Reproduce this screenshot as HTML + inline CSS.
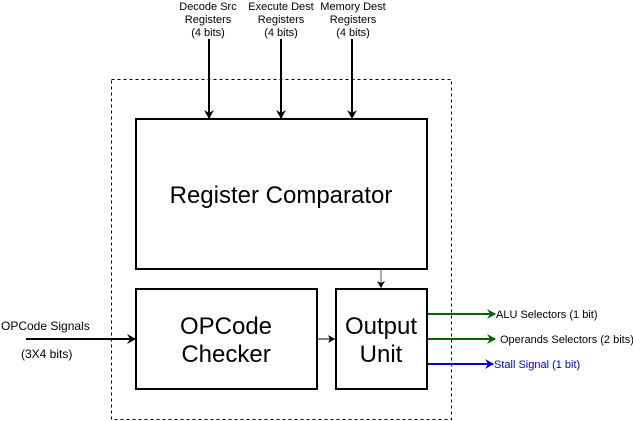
<!DOCTYPE html>
<html><head><style>
body{margin:0;background:#fff;}
svg{display:block;font-family:"Liberation Sans",sans-serif;}
</style></head><body>
<svg width="633" height="421" viewBox="0 0 633 421">
<defs>
<marker id="ab" markerWidth="10" markerHeight="10" refX="8" refY="5" orient="auto" markerUnits="userSpaceOnUse"><path d="M0,0 L9,5 L0,10 L3,5z" fill="#000"/></marker>
<marker id="as" markerWidth="8" markerHeight="8" refX="7" refY="4" orient="auto" markerUnits="userSpaceOnUse"><path d="M0,0 L7,4 L0,8 L2,4z" fill="#000"/></marker>
<marker id="ag" markerWidth="10" markerHeight="10" refX="8" refY="5" orient="auto" markerUnits="userSpaceOnUse"><path d="M0,0 L9,5 L0,10 L3,5z" fill="#006600"/></marker>
<marker id="abl" markerWidth="10" markerHeight="10" refX="8" refY="5" orient="auto" markerUnits="userSpaceOnUse"><path d="M0,0 L9,5 L0,10 L3,5z" fill="#0000cc"/></marker>
</defs>
<rect x="111.5" y="79.5" width="340" height="340" fill="none" stroke="#000" stroke-dasharray="3,3"/>
<rect x="136" y="119" width="291" height="150" fill="#fff" stroke="#000" stroke-width="2"/>
<text x="281" y="203" font-size="24" text-anchor="middle">Register Comparator</text>
<rect x="136" y="289" width="181" height="100" fill="#fff" stroke="#000" stroke-width="2"/>
<text x="226" y="334" font-size="24" text-anchor="middle">OPCode</text>
<text x="226" y="362" font-size="24" text-anchor="middle">Checker</text>
<rect x="336" y="289" width="91" height="100" fill="#fff" stroke="#000" stroke-width="2"/>
<text x="381" y="334" font-size="24" text-anchor="middle">Output</text>
<text x="381" y="362" font-size="24" text-anchor="middle">Unit</text>
<g font-size="11" text-anchor="middle">
<text x="208" y="10">Decode Src</text><text x="208" y="23">Registers</text><text x="208" y="36">(4 bits)</text>
<text x="281" y="10">Execute Dest</text><text x="281" y="23">Registers</text><text x="281" y="36">(4 bits)</text>
<text x="353" y="10">Memory Dest</text><text x="353" y="23">Registers</text><text x="353" y="36">(4 bits)</text>
</g>
<g stroke="#000" stroke-width="2">
<line x1="209" y1="39" x2="209" y2="118" marker-end="url(#ab)"/>
<line x1="281" y1="39" x2="281" y2="118" marker-end="url(#ab)"/>
<line x1="352" y1="39" x2="352" y2="118" marker-end="url(#ab)"/>
<line x1="26" y1="339" x2="135" y2="339" marker-end="url(#ab)"/>
</g>
<line x1="381" y1="270" x2="381" y2="288" stroke="#555" stroke-width="1" marker-end="url(#as)"/>
<line x1="318" y1="339" x2="335" y2="339" stroke="#000" stroke-width="1" marker-end="url(#as)"/>
<line x1="428" y1="314" x2="495" y2="314" stroke="#006600" stroke-width="2" marker-end="url(#ag)"/>
<line x1="428" y1="339" x2="495" y2="339" stroke="#006600" stroke-width="2" marker-end="url(#ag)"/>
<line x1="428" y1="364" x2="493" y2="364" stroke="#0000cc" stroke-width="2" marker-end="url(#abl)"/>
<g font-size="11">
<text x="496" y="318">ALU Selectors (1 bit)</text>
<text x="500" y="343">Operands Selectors (2 bits)</text>
<text x="494" y="368" fill="#0000cc">Stall Signal (1 bit)</text>
</g>
<g font-size="12">
<text x="1" y="330">OPCode Signals</text>
<text x="21" y="358">(3X4 bits)</text>
</g>
</svg>
</body></html>
